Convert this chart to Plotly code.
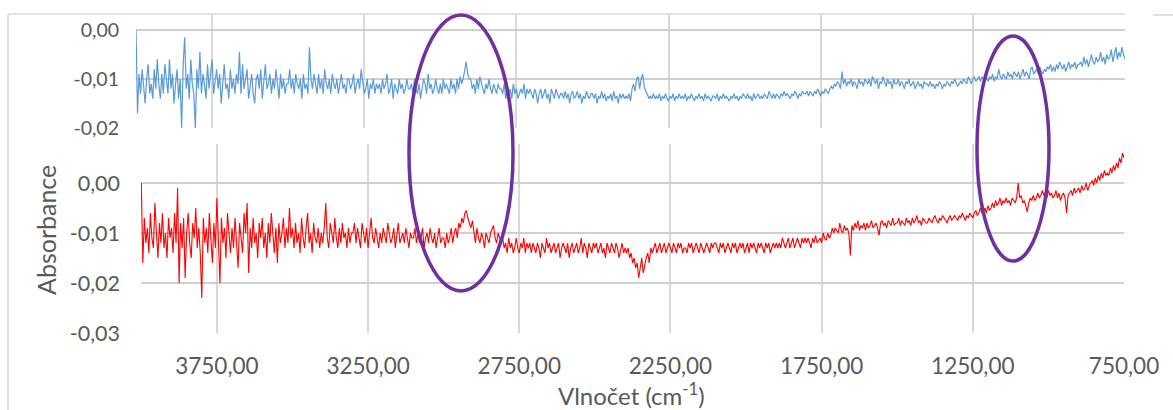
import plotly.graph_objects as go

W, H = 1173, 410

# Wavenumber grid (cm-1), sampled every 5 cm-1 from 4000 down to 750
wavenumber = list(range(4000, 749, -5))

# Bottom (red) spectrum, absorbance in milli-units
red_mabs = [
    0, -16, -7, -12, -9, -14, -6, -11, -13, -4, -10, -15, -8, -12, -6, -13, -10, -15, -7, -11,
    -9, -14, -6, -12, -1, -20, -8, -13, -7, -19, -10, -6, -12, -15, -8, -11, -5, -13, -9, -14,
    -23, -7, -12, -9, -14, -6, -11, -16, -8, -13, -3, -10, -20, -7, -12, -9, -15, -6, -11, -14,
    -9, -13, -7, -12, -17, -8, -11, -14, -6, -10, -4, -18, -9, -13, -7, -12, -10, -15, -8, -11,
    -7, -13, -10, -15, -8, -12, -6, -11, -14, -9, -16, -8, -12, -10, -7, -13, -9, -12, -5, -11,
    -9, -13, -8, -12, -10, -14, -7, -11, -13, -9, -6, -12, -10, -14, -8, -11, -12, -9, -13, -10,
    -12, -9, -4, -11, -13, -8, -10, -12, -7, -11, -13, -9, -12, -8, -11, -10, -13, -9, -12, -10,
    -10, -8, -12, -9, -11, -13, -8, -10, -12, -9, -13, -10, -7, -11, -12, -9, -11, -13, -10, -12,
    -9, -11, -12, -8, -10, -12, -11, -9, -13, -10, -8, -12, -11, -10, -12, -9, -11, -13, -10, -11,
    -11, -9, -12, -10, -12, -11, -9, -13, -11, -10, -12, -9, -11, -12, -10, -13, -11, -9, -12, -11,
    -11, -13, -10, -12, -11, -9, -12, -10, -9, -11, -8, -9, -7, -8, -6, -5.5, -7, -8, -9, -7.5,
    -10, -12, -9, -11, -12, -10, -11, -13, -10, -11, -12, -10, -9, -8.5, -11, -12, -10, -11, -12, -11,
    -13, -12, -14, -11, -13, -12, -14, -13, -11, -13, -14, -12, -13, -11, -14, -12, -13, -12, -14, -12,
    -13, -14, -12, -13, -15, -12, -13, -14, -11, -13, -12, -14, -13, -12, -14, -13, -12, -15, -13, -12,
    -13, -14, -12, -15, -13, -12, -14, -13, -12, -14, -13, -11, -14, -12, -13, -15, -12, -13, -14, -12,
    -13, -12, -14, -13, -12, -14, -13, -15, -12, -13, -14, -12, -13, -14, -12, -13, -15, -13, -12, -14,
    -13, -14, -13, -15, -14, -16, -15, -17, -16, -19, -17, -15, -18, -16, -15, -14, -16, -13, -14, -13,
    -12, -14, -13, -12, -14, -13, -12, -14, -13, -12, -13, -14, -12, -13, -14, -12, -13, -12, -14, -13,
    -13, -14, -12, -13, -12, -14, -13, -12, -13, -14, -12, -13, -14, -13, -12, -13, -14, -12, -13, -12,
    -12, -13, -14, -12, -13, -12, -14, -13, -12, -13, -14, -12, -13, -12, -14, -13, -12, -13, -12, -14,
    -13, -12, -14, -12, -13, -12, -13, -14, -12, -13, -12, -13, -14, -12, -13, -12, -14, -13, -12, -13,
    -12, -13, -12, -13, -11, -12, -13, -12, -11, -13, -12, -11, -13, -12, -11, -12, -13, -11, -12, -11,
    -12, -11, -12, -13, -11, -12, -10.5, -12, -11.5, -11, -12, -10, -11, -11.5, -10, -11, -10.5, -9, -10, -9,
    -9.5, -10, -8, -9.5, -10, -8.5, -9.5, -9, -10, -14.5, -8.5, -9.5, -8, -9, -7.5, -9.5, -8.5, -9, -8, -9.5,
    -8, -9, -8.5, -7.5, -9, -8.5, -8, -9, -10.5, -8, -7.5, -8.5, -8, -9, -7.5, -8, -8.5, -7, -8.5, -8,
    -8, -7, -8.5, -7.5, -8, -8.5, -7, -8, -7.5, -8.5, -7, -8, -7.5, -6.5, -8, -7.5, -8.5, -7, -7.5, -8,
    -8, -7, -7.5, -8, -7, -6.5, -7.5, -8, -7, -7.5, -6.5, -7, -7.5, -8, -7, -6.5, -7.5, -7, -6.5, -7,
    -7.5, -6.5, -7, -6, -7, -7.5, -6.5, -7, -6, -6.5, -7, -6, -5.5, -6.5, -6, -5, -6, -5.5, -5, -6,
    -4.5, -5.5, -5, -4, -5, -3.5, -4.5, -4, -3, -4.5, -3.5, -4, -3, -4, -3.5, -4.5, -3, -3.5, -4, -3,
    0, -3, -2.5, -4, -3.5, -4.5, -5.8, -4, -3, -3.5, -2.5, -3.5, -3, -2, -3, -2.5, -1.5, -2.5, -2, -3,
    -1.5, -2.5, -2, -3, -2.5, -1.5, -3, -2, -3.5, -2.5, -2, -3, -6, -2.5, -2, -1.5, -2.5, -1, -2, -1.5,
    -1, -2, -0.5, -1.5, -1, 0, -1.5, -0.5, 0, 0.5, -0.5, 1, 0, 1.5, 0.5, 2, 1, 2.5, 1.5, 2,
    1.5, 3, 2, 3.5, 2.5, 4, 3, 5, 4, 6, 5,
]

# Top inset (blue) spectrum, absorbance in milli-units
blue_mabs = [
    0, -17, -9, -13, -8, -12, -15, -10, -7, -13, -11, -14, -8, -12, -6, -11, -14, -9, -13, -7,
    -10, -13, -6, -12, -9, -15, -11, -8, -14, -10, -20, -7, -1.5, -12, -9, -14, -6, -11, -13, -20,
    -8, -12, -4.5, -13, -9, -11, -14, -7, -12, -9, -6, -13, -10, -8, -12, -9, -15, -11, -7, -12,
    -11, -14, -8, -12, -10, -13, -9, -11, -4.5, -13, -7, -12, -10, -8, -14, -11, -9, -13, -15, -10,
    -9, -12, -8, -14, -10, -7, -12, -11, -9, -13, -10, -12, -8, -11, -14, -9, -12, -10, -13, -11,
    -11, -8, -12, -10, -13, -9, -11, -12, -10, -14, -9, -12, -11, -13, -3.5, -10, -12, -9, -11, -13,
    -9, -12, -10, -13, -8, -11, -12, -10, -13, -9, -11, -12, -10, -13, -11, -9, -12, -11, -13, -10,
    -10, -12, -11, -9, -13, -11, -10, -12, -8, -11, -13, -12, -10, -14, -11, -12, -10, -13, -11, -12,
    -11, -13, -10, -12, -11, -9, -13, -12, -10, -14, -11, -12, -13, -10, -12, -11, -13, -12, -10, -12,
    -12, -11, -13, -10, -12, -13, -11, -14, -12, -10, -11, -13, -9, -12, -11, -13, -12, -10, -12, -13,
    -11, -13, -10, -12, -11, -12, -13, -10, -12, -11, -13, -10, -12, -9.5, -11, -10, -8.5, -6.5, -9, -10,
    -10, -12, -11, -13, -10, -12, -9.5, -11, -12, -13, -11, -12, -10, -12, -13, -11, -12, -13, -11, -12,
    -12, -13, -11, -14, -12, -13, -12, -14, -11, -13, -12, -14, -13, -12, -13, -11, -14, -12, -13, -12,
    -13, -14, -12, -13, -15, -13, -12, -14, -13, -12, -14, -13, -15, -12, -13, -14, -12, -13, -14, -13,
    -13, -14, -12.5, -14, -13, -15, -13, -12.5, -14, -13.5, -12.5, -14, -13, -15, -13.5, -14, -12.5, -13.5, -14, -13,
    -13, -14, -13, -15, -13.5, -14, -12.5, -14, -13, -14.5, -13.5, -14, -13, -14.5, -12.5, -14, -13.5, -15, -13, -14,
    -13, -14, -13.5, -14, -13, -14.5, -12, -11, -12.5, -10, -9.5, -12, -10, -9, -11.5, -12.5, -13, -14, -13.5, -14,
    -13, -14, -13.5, -14, -13, -14.5, -13.5, -14, -13, -14, -14.5, -13.5, -14, -13, -14.5, -13.5, -14, -13, -14, -13.5,
    -14, -13, -14.5, -13.5, -14, -13, -14, -14.5, -13.5, -14, -13, -14, -13.5, -14.5, -13, -14, -13.5, -14, -14.5, -13.5,
    -13.5, -14, -13, -14.5, -13.5, -14, -13, -14, -13.5, -14, -14.5, -13.5, -14, -13, -14, -13.5, -14.5, -13.5, -14, -13,
    -13.5, -14, -13, -14, -13.5, -14.5, -13, -14, -13.5, -13, -14, -13.5, -14, -13, -13.5, -14, -12.5, -13.5, -14, -13,
    -14, -13, -13.5, -14, -13, -13.5, -12.5, -13.5, -13, -13.5, -14, -13, -13.5, -12.5, -13, -14, -13, -13.5, -12.5, -13,
    -13, -12.5, -13.5, -12.5, -13, -13.5, -12.5, -13, -12, -13, -13.5, -12.5, -13, -12, -12.5, -13, -12, -11.5, -12, -11,
    -11.5, -10.5, -11, -12, -8.5, -11, -10, -11.5, -10.5, -11, -10, -11.5, -10.5, -11, -12, -10, -11, -10.5, -11.5, -10,
    -10.5, -11, -10, -11.5, -9.5, -10.5, -11, -10, -12, -10.5, -11, -9.5, -10.5, -11.5, -10, -11, -10.5, -12, -10, -11,
    -11, -10, -11.5, -10.5, -11, -12, -10.5, -11, -10, -11.5, -11, -10.5, -12, -11, -10.5, -11.5, -11, -12, -10.5, -11,
    -11, -11.5, -10.5, -11.5, -11, -12, -11, -11.5, -10.5, -11, -12, -11, -11.5, -10.5, -11, -11.5, -10.5, -11, -10, -11,
    -11.5, -11, -10.5, -11, -10, -10.5, -11, -9.5, -10.5, -11, -10, -9.5, -10.5, -10, -9.5, -10.5, -9.5, -10, -10.5, -9.5,
    -10.5, -9.5, -10, -9, -10.5, -9.5, -10, -8, -9.5, -10, -9, -9.5, -10, -8.5, -9.5, -9, -10, -8.5, -9, -9.5,
    -8.5, -10, -9, -8, -9.5, -8.5, -9, -10, -8, -7.5, -9, -8.5, -8, -9, -7.5, -8.5, -9, -8, -8.5, -7.5,
    -8, -7, -8.5, -7.5, -8.5, -7, -8, -6.5, -7.5, -8, -7, -8.5, -7.5, -6.5, -8, -7, -7.5, -6.5, -8, -7,
    -7, -6.5, -7.5, -5.5, -7, -6, -7.5, -6, -5, -6.5, -7, -5.5, -6.5, -6, -4.5, -6.5, -5.5, -7, -5, -6,
    -5.5, -4, -6.5, -5, -3.5, -6, -4.5, -5.5, -3.5, -5, -6,
]

if len(red_mabs) != len(wavenumber) or len(blue_mabs) != len(wavenumber):
    raise SystemExit(f"length mismatch: {len(wavenumber)} {len(red_mabs)} {len(blue_mabs)}")

x_ticks = [3750, 3250, 2750, 2250, 1750, 1250, 750]
main_y_ticks = [0.00, -0.01, -0.02, -0.03]
inset_y_ticks = [0.00, -0.01, -0.02]


def fmt(v):
    s = f"{v:.2f}".replace(".", ",")
    return "0,00" if s == "-0,00" else s


red = [v / 1000 for v in red_mabs]
blue = [v / 1000 for v in blue_mabs]


def px(x):
    return x / W


def py(y):
    return 1 - y / H


TEXT = "#595959"
FONT = "Lato"
GRID_V = "#d9d9d9"
GRID_H = "#cfcfcf"

fig = go.Figure()
fig.add_trace(go.Scatter(x=wavenumber, y=red, mode="lines",
                         line=dict(color="#ff0000", width=1.1),
                         xaxis="x", yaxis="y", showlegend=False))
fig.add_trace(go.Scatter(x=wavenumber, y=blue, mode="lines",
                         line=dict(color="#5b9bd5", width=1.2),
                         xaxis="x2", yaxis="y2", showlegend=False))

fig.update_layout(
    width=W, height=H,
    margin=dict(l=0, r=0, t=0, b=0),
    paper_bgcolor="white", plot_bgcolor="rgba(0,0,0,0)",
    showlegend=False,
    xaxis=dict(domain=[px(141), px(1124)], range=[4001, 750],
               tickvals=x_ticks, ticktext=[fmt(v) for v in x_ticks],
               tickfont=dict(family=FONT, size=22.5, color=TEXT),
               showgrid=True, gridcolor=GRID_V, gridwidth=1.6,
               zeroline=False, showline=False, ticks="",
               ticklabelstandoff=17, automargin=False, anchor="y"),
    yaxis=dict(domain=[py(333), py(144)], range=[-0.03, 0.0078],
               tickvals=main_y_ticks, ticktext=[fmt(v) for v in main_y_ticks],
               tickfont=dict(family=FONT, size=21.5, color=TEXT),
               showgrid=True, gridcolor=GRID_H, gridwidth=1.6,
               zeroline=False, showline=False, ticks="",
               ticklabelstandoff=20, automargin=False, anchor="x"),
    xaxis2=dict(domain=[px(136), px(1125)], range=[4000, 750],
                tickvals=x_ticks, showticklabels=False,
                showgrid=True, gridcolor=GRID_V, gridwidth=1.6,
                zeroline=False, showline=False, ticks="",
                automargin=False, anchor="y2"),
    yaxis2=dict(domain=[py(128), py(14)], range=[-0.02, 0.00327],
                tickvals=inset_y_ticks, ticktext=[fmt(v) for v in inset_y_ticks],
                tickfont=dict(family=FONT, size=19.5, color=TEXT),
                showgrid=True, gridcolor=GRID_H, gridwidth=1.6,
                zeroline=False, showline=False, ticks="",
                ticklabelstandoff=16, automargin=False, anchor="x2"),
)

frame = dict(color="#d9d9d9", width=1.6)
shapes = [
    dict(type="line", xref="paper", yref="paper", x0=px(8), x1=px(1125), y0=py(14), y1=py(14), line=frame, layer="below"),
    dict(type="line", xref="paper", yref="paper", x0=px(1153), x1=px(1173), y0=py(15), y1=py(15), line=frame, layer="below"),
    dict(type="line", xref="paper", yref="paper", x0=px(8), x1=px(8), y0=py(14), y1=py(410), line=frame, layer="below"),
    dict(type="circle", xref="paper", yref="paper", x0=px(409), x1=px(513), y0=py(291), y1=py(15),
         line=dict(color="#7030a0", width=3.5), layer="above"),
    dict(type="circle", xref="paper", yref="paper", x0=px(977), x1=px(1049), y0=py(261), y1=py(36),
         line=dict(color="#7030a0", width=3.5), layer="above"),
]
fig.update_layout(shapes=shapes)

fig.add_annotation(text="Absorbance", xref="paper", yref="paper", x=px(46), y=py(230),
                   textangle=-90, showarrow=False, xanchor="center", yanchor="middle",
                   font=dict(family=FONT, size=25, color=TEXT))
fig.add_annotation(text="Vlnočet (cm<sup>-1</sup>)", xref="paper", yref="paper", x=px(631), y=py(394),
                   showarrow=False, xanchor="center", yanchor="middle",
                   font=dict(family=FONT, size=24, color=TEXT))

fig.write_html("out.html")
